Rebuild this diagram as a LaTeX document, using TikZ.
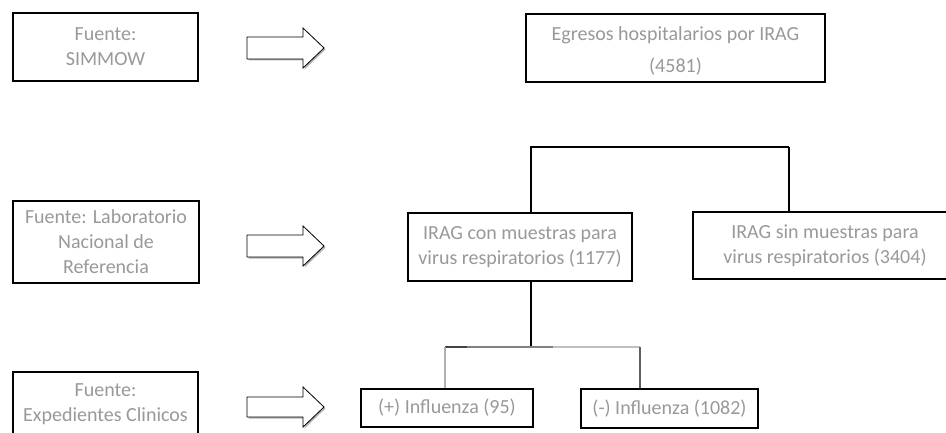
\documentclass[tikz,border=0pt]{standalone}
\usepackage{fontspec}
\setmainfont{Carlito}
\definecolor{txt}{HTML}{999999}
\definecolor{segdark}{HTML}{444444}
\definecolor{segmid}{HTML}{808080}
\definecolor{seglight}{HTML}{C0C0C0}
\definecolor{vlight}{HTML}{B0B0B0}
\definecolor{vdark}{HTML}{606060}
\newcommand{\blockarr}[3]{%
  \fill[gray!60] ({#1+1.5},{#2-#3+1.5}) -- ({#1+57.5},{#2-#3+1.5}) -- ({#1+57.5},{#2-20+1.5}) -- ({#1+78.5},{#2+1.5}) -- ({#1+57.5},{#2+20+1.5}) -- ({#1+57.5},{#2+#3+1.5}) -- ({#1+1.5},{#2+#3+1.5}) -- cycle;
  \filldraw[barrow] (#1,{#2-#3}) -- ({#1+56},{#2-#3}) -- ({#1+56},{#2-20}) -- ({#1+77},#2) -- ({#1+56},{#2+20}) -- ({#1+56},{#2+#3}) -- (#1,{#2+#3}) -- cycle;}
\begin{document}
\begin{tikzpicture}[x=1pt,y=-1pt,
  box/.style={draw=black, line width=1.3pt, fill=white, inner sep=0pt, align=center,
              text=txt, font=\fontsize{20}{25}\selectfont},
  plaintext/.style={inner sep=0pt, align=center, text=txt, font=\fontsize{20}{25}\selectfont},
  conn/.style={line width=1.3pt, draw=black},
  barrow/.style={draw=black, line width=0.8pt, fill=white}]
\useasboundingbox (0,0) rectangle (946,433);
\clip (0,0) rectangle (946,433);

% left source boxes
\node[box, minimum width=185pt, minimum height=68pt] (b1) at (105.5,47) {Fuente:\\SIMMOW};
\node[box, minimum width=186pt, minimum height=82pt] (b3) at (106,242) {Fuente: Laboratorio\\Nacional de\\Referencia};
\node[box, minimum width=185pt, minimum height=83pt] (b8) at (105.5,413.5) {};
\node[plaintext] (t8) at (105.5,404) {Fuente:\\Expedientes Clinicos};

% block arrows
\blockarr{247}{48}{11}
\blockarr{247}{246}{11}
\blockarr{247}{407}{10}

% main boxes
\node[box, minimum width=299pt, minimum height=68pt] (b2) at (675.5,48) {};
\node[plaintext] (t2) at (675.5,51) {Egresos hospitalarios por IRAG\\[7pt](4581)};
\node[box, minimum width=264pt, minimum height=67pt] (b5) at (825,245.5) {IRAG sin muestras para\\virus respiratorios (3404)};
\node[box, minimum width=224pt, minimum height=68pt] (b4) at (520,247) {IRAG con muestras para\\virus respiratorios (1177)};
\node[box, minimum width=172pt, minimum height=38pt] (b6) at (447,408) {(+) Influenza (95)};
\node[box, minimum width=177pt, minimum height=39pt] (b7) at (669.5,408.5) {(-) Influenza (1082)};

% upper split
\coordinate (u1) at (531,147);
\coordinate (u2) at (789,147);
\draw[conn] (b4.north -| u1) -- (u1) -- (u2);
\draw[line width=2pt] (u2) -- (b5.north -| u2);

% lower split
\coordinate (m) at (531,347);
\coordinate (l) at (445,347);
\coordinate (s1) at (467,347);
\coordinate (s2) at (553,347);
\coordinate (r) at (640,347);
\draw[conn] (b4.south -| m) -- (m);
\draw[line width=1.3pt, segdark] (l) -- (s1);
\draw[line width=1.3pt, segmid] (s1) -- (s2);
\draw[line width=1.3pt, seglight] (s2) -- (r);
\draw[line width=1.3pt, vlight] (l) -- (b6.north -| l);
\draw[line width=1.3pt, vdark] (r) -- (b7.north -| r);
\end{tikzpicture}
\end{document}
